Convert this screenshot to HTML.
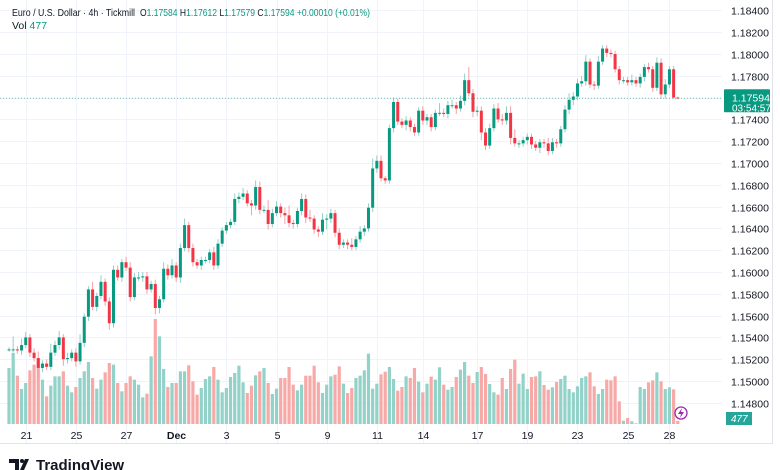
<!DOCTYPE html>
<html><head><meta charset="utf-8"><style>
html,body{margin:0;padding:0;background:#fff;}
svg{display:block;font-family:"Liberation Sans",sans-serif;}
</style></head><body>
<svg id="chart" width="780" height="470" viewBox="0 0 780 470" xmlns="http://www.w3.org/2000/svg">
<rect x="0" y="0" width="780" height="470" fill="#fff"/>
<g id="grid"></g>
<g id="vol"></g>
<g id="candles"></g>
<g id="axes"></g>
<line x1="0" y1="443.5" x2="772" y2="443.5" stroke="#e0e3eb"/>
<line x1="772.5" y1="0" x2="772.5" y2="444" stroke="#e0e3eb"/>
<g font-size="10.5">
<text x="12" y="16" fill="#131722" textLength="123" lengthAdjust="spacingAndGlyphs">Euro / U.S. Dollar · 4h · Tickmill</text>
<text x="140" y="16" fill="#131722" textLength="230" lengthAdjust="spacingAndGlyphs">O<tspan fill="#089981">1.17584</tspan>  H<tspan fill="#089981">1.17612</tspan>  L<tspan fill="#089981">1.17579</tspan>  C<tspan fill="#089981">1.17594</tspan>  <tspan fill="#089981">+0.00010 (+0.01%)</tspan></text>
<text x="12" y="29" fill="#131722">Vol <tspan fill="#089981">477</tspan></text>
</g>
<g>
<path d="M9 459h10v11h-4v-7h-6z M20 470l5-11h4l-5 11z" fill="#131722"/>
<circle cx="22" cy="461" r="2" fill="#131722"/>
<text x="36" y="470" font-size="15" font-weight="bold" fill="#131722">TradingView</text>
</g>
<g>
<circle cx="681" cy="413" r="6" fill="#fff" stroke="#9c27b0" stroke-width="1.3"/>
<path d="M682 408l-4 6h3l-1 4 4-6h-3z" fill="#9c27b0"/>
</g>
</svg>
<script>
const closes = [1.1529,1.1529,1.1528,1.1533,1.1540,1.1526,1.1521,1.1512,1.1516,1.1513,1.1526,1.1533,1.1540,1.1520,1.1521,1.1526,1.1518,1.1535,1.1559,1.1584,
1.1568,1.1578,1.1591,1.1573,1.1553,1.1602,1.1595,1.1609,1.1604,1.1577,1.1595,1.1595,1.1596,1.1584,1.1589,1.1567,1.1575,1.1603,1.1597,1.1606,1.1595,
1.1622,1.1643,1.1622,1.1609,1.1606,1.1611,1.1611,1.1618,1.1606,1.1626,1.1638,1.1643,1.1646,1.1667,1.1669,1.1672,1.1663,1.1661,1.1678,1.1657,
1.1657,1.1644,1.1654,1.1660,1.1654,1.1652,1.1645,1.1644,1.1656,1.1667,1.1650,1.1649,1.1639,1.1637,1.1648,1.1649,1.1654,1.1636,1.1625,1.1627,
1.1625,1.1623,1.1630,1.1637,1.1640,1.1659,1.1695,1.1702,1.1686,1.1684,1.1732,1.1756,1.1738,1.1735,1.1739,1.1733,1.1728,1.1748,1.1739,1.1742,
1.1733,1.1746,1.1746,1.1745,1.1753,1.1753,1.1750,1.1757,1.1776,1.1764,1.1747,1.1748,1.1728,1.1716,1.1732,1.1750,1.1740,
1.1739,1.1746,1.1723,1.1718,1.1718,1.1721,1.1724,1.1717,1.1714,1.1719,1.1718,1.1711,1.1719,1.1718,1.1731,1.1749,1.1758,1.1761,1.1773,1.1775,
1.1793,1.1772,1.1771,1.1793,1.1805,1.1801,1.1800,1.1786,1.1776,1.1776,1.1774,1.1776,1.1773,1.1779,1.1788,1.1786,1.1769,1.1792,1.1763,1.1772,
1.1786,1.1760,1.17594];
const firstOpen = 1.1529;
const wickUpPips = [2,12,3,6,5,3,4,6,3,4,8,4,6,3,5,3,4,8,3,3,
7,3,6,3,4,4,4,3,5,5,4,5,4,4,3,4,3,6,4,6,3,
4,6,3,4,3,3,3,3,5,4,3,3,3,5,4,5,3,3,6,5,4,9,4,5,3,5,9,3,3,5,4,7,3,3,6,4,4,3,4,3,
3,6,3,5,3,4,9,5,5,2,3,4,3,3,4,3,3,3,4,3,3,3,9,4,4,5,3,5,6,12,4,4,4,4,4,4,5,
5,6,6,8,3,3,3,3,3,3,3,5,4,3,3,4,6,4,4,5,6,3,3,5,3,3,3,3,3,3,3,5,3,3,3,4,3,5,4,5,3,3,1];
const wickDnPips = [2,3,3,4,3,4,3,10,4,3,3,3,4,6,4,3,5,3,4,4,
3,4,3,4,6,4,3,4,3,4,3,3,4,4,3,6,5,3,4,3,4,
5,3,4,4,3,4,3,3,4,3,3,3,3,3,4,3,3,9,4,4,3,5,3,3,4,8,4,4,3,4,5,3,4,5,3,9,4,4,4,
3,4,3,3,3,4,3,4,4,3,3,3,4,3,3,5,4,3,3,4,4,4,3,3,3,4,3,5,3,4,3,5,4,7,4,3,3,
3,4,4,6,3,4,3,4,4,3,5,4,4,3,4,3,3,4,5,3,3,4,3,4,3,3,4,3,3,4,3,3,3,3,4,4,3,4,3,4,4,3,1];
const volumes = [8400,10650,7250,5250,6150,8050,8900,9900,6650,4150,5750,7150,7150,7900,5750,4750,5550,6900,7900,9300,
6900,5300,6650,7750,9150,8900,6150,4900,6150,7150,6650,5900,4000,4550,10150,15750,13150,8250,5550,6150,
6150,7900,7900,8800,6400,4400,5400,6750,7150,8550,6650,4750,5400,7050,7650,8750,6250,4650,5750,7300,
7900,8400,6150,4500,5300,6900,6900,8550,5900,5050,5900,7250,7250,8750,6250,4650,5900,7150,7400,8650,6050,
4650,5400,6900,7250,8050,10550,5300,6050,7450,7850,8550,6750,5000,5550,7150,6900,8400,6350,4750,6050,
7100,6650,8500,5900,5150,5550,7050,8150,9300,7250,6150,7800,8550,7500,6000,4750,4400,6900,5250,8250,
9650,6050,7550,5250,7050,7150,7900,5850,5150,5500,6300,6750,7250,5250,4750,5650,6900,7150,7750,5650,
4500,5250,6650,6550,7150,3400,500,900,400,100,5550,5250,6250,6550,7750,6400,5250,5500,5200,477];
const priceTicks = [1.184,1.182,1.180,1.178,1.176,1.174,1.172,1.170,1.168,1.166,1.164,1.162,1.160,1.158,1.156,1.154,1.152,1.150,1.148];
const dateLabels = ["21","25","27","Dec","3","5","9","11","14","17","19","23","25","28"];
const dateIdx = [4,16,28,40,52,64,76,88,99,112,124,136,148,158];
const lastPrice = 1.17594;
const countdown = "03:54:57";

const NS="http://www.w3.org/2000/svg";
const yP = p => 54 + (1.18 - p) * 10900;
const xI = i => 9 + i * 4.18;
const volBase = 424, volH = 105;
const vmax = Math.max(...volumes);
const yV = v => volBase - v / vmax * volH;
function mk(tag, parent, attrs){const e=document.createElementNS(NS,tag);for(const k in attrs)e.setAttribute(k,attrs[k]);parent.appendChild(e);return e;}
const grid=document.getElementById('grid'), axes=document.getElementById('axes'), cg=document.getElementById('candles'), vg=document.getElementById('vol');
priceTicks.forEach(p=>{
  const y=Math.round(yP(p))+0.5;
  const l=mk('line',grid,{x1:0,x2:722,y1:y,y2:y,stroke:'#f0f3fa'});
  
  
  const t=mk('text',axes,{x:731,y:y+4,'font-size':'10.5',fill:'#131722'});
  t.textContent=p.toFixed(5);
  
  
});
dateLabels.forEach((d,k)=>{
  const x=Math.round(xI(dateIdx[k]))+0.5;
  const l=mk('line',grid,{x1:x,x2:x,y1:0,y2:443,stroke:'#f0f3fa'});
  
  
  const t=mk('text',axes,{x:x,y:439,'font-size':'10.5',fill:'#131722','text-anchor':'middle','font-weight':d==='Dec'?'bold':'normal'});
  t.textContent=d;
  
  
});
let prev=firstOpen;
closes.forEach((c,i)=>{
  const o=prev; prev=c;
  const up=c>=o;
  const wu=wickUpPips[i]||0, wd=wickDnPips[i]||0;
  const hi=Math.max(o,c)+wu*0.0001, lo=Math.min(o,c)-wd*0.0001;
  const x=xI(i);
  const v=volumes[i]||0;
  const vb=mk('rect',vg,{x:x-1.6,y:yV(v),width:3.2,height:volBase-yV(v),fill:up?'#92d2c8':'#f7a9a7'});
  
  
  const w=mk('line',cg,{x1:x,x2:x,y1:yP(hi),y2:yP(lo),stroke:up?'#8fd1c6':'#f7a0a6','stroke-width':1});
  
  
  const top=yP(Math.max(o,c)), bh=Math.max(1,yP(Math.min(o,c))-top);
  const b=mk('rect',cg,{x:x-1.5,y:top,width:3,height:bh,fill:up?'#089981':'#f23645'});
  
  
});
const ly=yP(lastPrice);
const pl=mk('line',axes,{x1:0,x2:722,y1:ly,y2:ly,stroke:'#089981','stroke-dasharray':'1 2','stroke-opacity':'0.6'});


const pb=mk('rect',axes,{x:724,y:ly-9,width:46,height:23,fill:'#089981',rx:1});


const pt=mk('text',axes,{x:732,y:ly+3,'font-size':'10.5',fill:'#fff'});
pt.textContent=lastPrice.toFixed(5);


const ct=mk('text',axes,{x:732,y:ly+13,'font-size':'10',fill:'#fff'});
ct.textContent=countdown;


const lv=volumes[volumes.length-1];
const vbx=mk('rect',axes,{x:726,y:412,width:26,height:13,fill:'#26a69a'});


const vt=mk('text',axes,{x:731,y:422,'font-size':'10',fill:'#fff','font-style':'italic'});
vt.textContent=String(lv);


</script>
</body></html>
